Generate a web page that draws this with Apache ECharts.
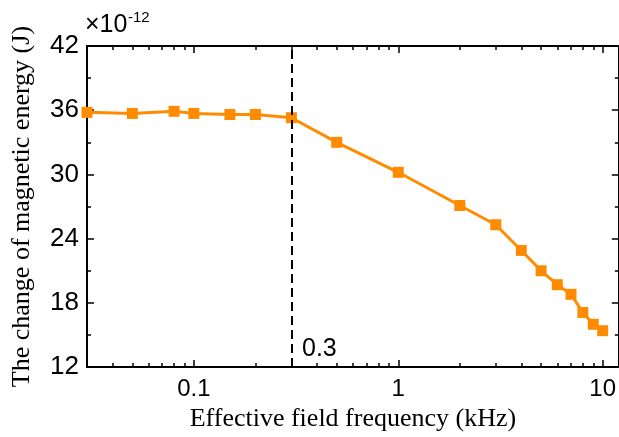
<!DOCTYPE html>
<html>
<head>
<meta charset="utf-8">
<script src="https://cdn.jsdelivr.net/npm/echarts@6/dist/echarts.min.js"></script>
<style>html,body{margin:0;padding:0;background:#fff}#c{width:619px;height:437px}</style>
</head>
<body>
<div id="c"></div>
<script>
const frequency = [0.03, 0.05, 0.08, 0.1, 0.15, 0.2, 0.3, 0.5, 1, 2, 3, 4, 5, 6, 7, 8, 9, 10];
const energy = [35.8, 35.7, 35.9, 35.7, 35.6, 35.6, 35.3, 33.0, 30.2, 27.1, 25.3, 22.9, 21.0, 19.7, 18.8, 17.1, 16.0, 15.4];
const xMajorTicks = [0.1, 1, 10];
const xMinorTicks = [0.04, 0.05, 0.06, 0.07, 0.08, 0.09, 0.2, 0.3, 0.4, 0.5, 0.6, 0.7, 0.8, 0.9, 2, 3, 4, 5, 6, 7, 8, 9];
const criticalFrequency = 0.3;
const scaleBase = '×10';
const scaleExp = '-12';

const sans = 'Liberation Sans';
const serif = 'Liberation Serif';
const black = '#000';

function xAxisDef(position, ticks, len, withLine, withLabels) {
  return {
    type: 'log', logBase: 10, min: 0.03, max: 12, position: position,
    axisLine: { show: withLine, onZero: false, lineStyle: { color: black, width: 2 } },
    axisTick: { show: true, inside: true, length: len, customValues: ticks, lineStyle: { color: black, width: 1.5 } },
    axisLabel: withLabels ? { show: true, customValues: xMajorTicks, color: black, fontFamily: sans, fontSize: 24, margin: 10 } : { show: false },
    splitLine: { show: false }
  };
}
function yAxisDef(position, withLabels) {
  return {
    type: 'value', min: 12, max: 42, interval: 6, position: position,
    axisLine: { show: true, onZero: false, lineStyle: { color: black, width: 2 } },
    axisTick: { show: true, inside: true, length: 7, lineStyle: { color: black, width: 1.5 } },
    minorTick: { show: true, splitNumber: 2, length: 4, lineStyle: { color: black, width: 1.5 } },
    axisLabel: { show: withLabels, color: black, fontFamily: sans, fontSize: 26, margin: 8 },
    splitLine: { show: false }
  };
}

const xAxes = [
  xAxisDef('bottom', xMajorTicks, 7, true, true),
  xAxisDef('bottom', xMinorTicks, 4, false, false),
  xAxisDef('top', xMajorTicks, 7, true, false),
  xAxisDef('top', xMinorTicks, 4, false, false)
];
Object.assign(xAxes[0], {
  name: 'Effective field frequency (kHz)', nameLocation: 'middle', nameGap: 37,
  nameTextStyle: { color: black, fontFamily: serif, fontSize: 26 }
});
const yAxes = [yAxisDef('left', true), yAxisDef('right', false)];
Object.assign(yAxes[0], {
  name: 'The change of magnetic energy (J)', nameLocation: 'middle', nameGap: 52,
  nameTextStyle: { color: black, fontFamily: serif, fontSize: 26 }
});

const chart = echarts.init(document.getElementById('c'), null, { renderer: 'canvas' });
chart.setOption({
  backgroundColor: '#fff',
  animation: false,
  graphic: [
    { type: 'text', left: 85, top: 13, style: { text: scaleBase, fill: black, fontSize: 25, fontFamily: sans } },
    { type: 'text', left: 128, top: 10, style: { text: scaleExp, fill: black, fontSize: 15, fontFamily: sans } }
  ],
  grid: { left: 87, right: -1, top: 46, bottom: 63, containLabel: false },
  xAxis: xAxes,
  yAxis: yAxes,
  series: [{
    type: 'line',
    xAxisIndex: 0, yAxisIndex: 0,
    data: frequency.map((f, i) => [f, energy[i]]),
    symbol: 'rect', symbolSize: 11,
    itemStyle: { color: '#ff8c00' },
    lineStyle: { color: '#ff8c00', width: 3 },
    markLine: {
      silent: true, symbol: 'none',
      lineStyle: { color: black, type: [9, 5], width: 2 },
      label: { show: true, formatter: String(criticalFrequency), position: 'start', offset: [28, -35], color: black, fontFamily: sans, fontSize: 25 },
      data: [{ xAxis: criticalFrequency }]
    }
  }]
});
</script>
</body>
</html>
